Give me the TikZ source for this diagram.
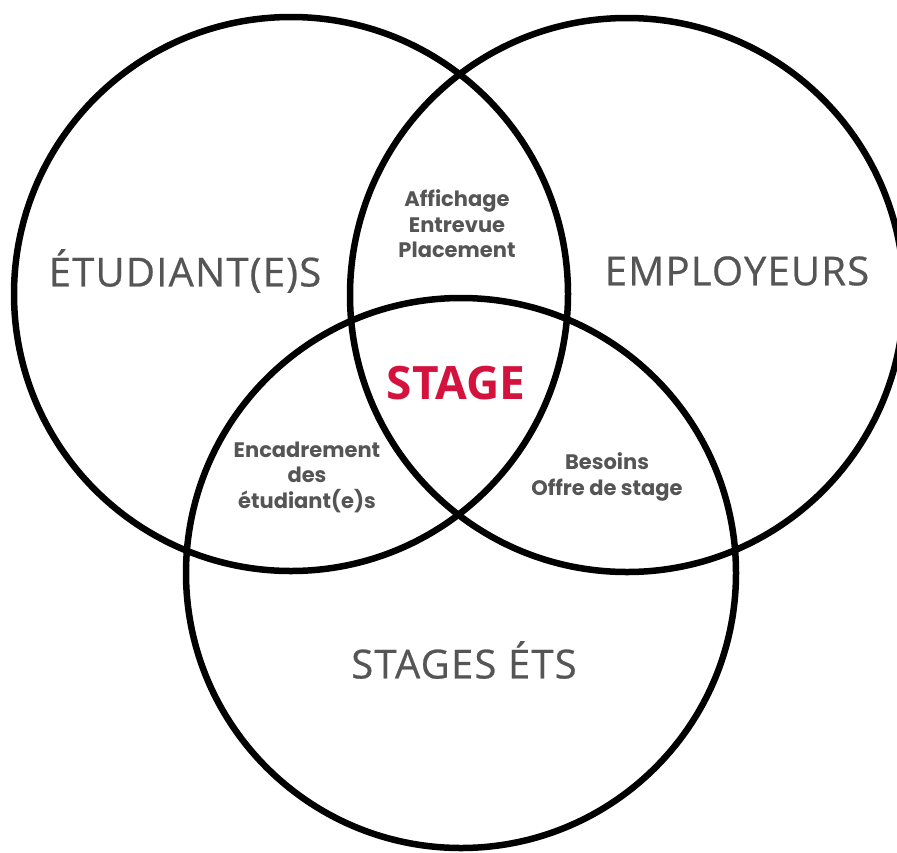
\documentclass[tikz,border=0pt]{standalone}
\usepackage{fontspec}
\newfontfamily\bigf[FakeBold=0.6,LetterSpace=3]{Open Sans}
\newfontfamily\smallf{Poppins}
\newfontfamily\redf{Open Sans}
\definecolor{txtgray}{RGB}{85,85,85}
\definecolor{stagered}{RGB}{212,18,62}
\begin{document}
\begin{tikzpicture}[x=1pt,y=-1pt,
  ring/.style={line width=6.5pt,draw=black},
  biglabel/.style={text=txtgray,font=\bigf\fontsize{40}{46}\selectfont,inner sep=0pt},
  smalllabel/.style={text=txtgray,font=\smallf\bfseries\fontsize{21}{25.5}\selectfont,align=center,inner sep=0pt},
  centerlabel/.style={text=stagered,font=\redf\bfseries\fontsize{46}{50}\selectfont,inner sep=0pt}]
\useasboundingbox (0,0) rectangle (897,852);
\clip (0,0) rectangle (897,852);
\draw[ring] (291,294) circle[radius=277pt];
\draw[ring] (627,295) circle[radius=277pt];
\draw[ring] (461,573) circle[radius=275pt];
\node[biglabel] (etu) at (185,271) {ÉTUDIANT(E)S};
\node[biglabel] (emp) at (737,271) {EMPLOYEURS};
\node[biglabel] (ets) at (464,660) {STAGES ÉTS};
\node[centerlabel] (stage) at (456,383) {STAGE};
\node[smalllabel] (aff) at (457,224) {Affichage\\Entrevue\\Placement};
\node[smalllabel] (enc) at (307,477) {Encadrement\\des\\étudiant(e)s};
\node[smalllabel] (bes) at (607,477) {Besoins\\Offre de stage};
\end{tikzpicture}
\end{document}
